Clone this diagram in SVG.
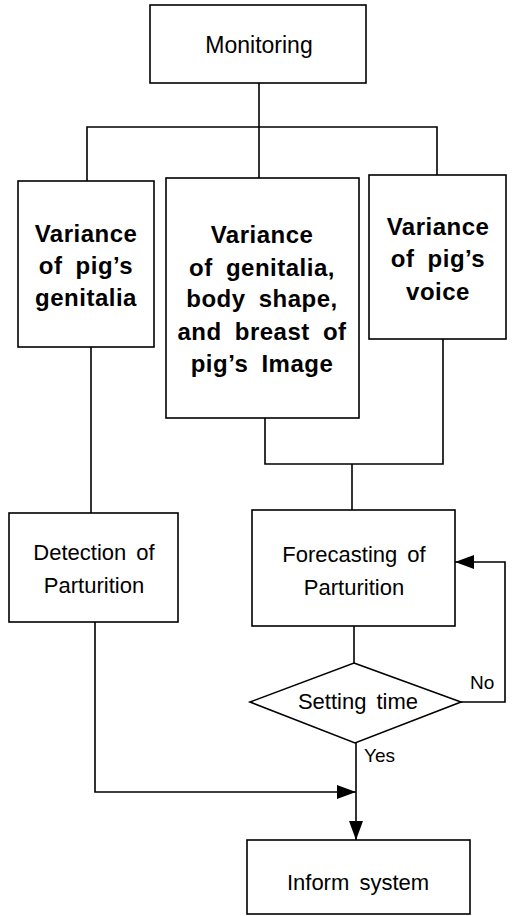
<svg xmlns="http://www.w3.org/2000/svg" width="517" height="916" viewBox="0 0 517 916">
<defs>
<style>
.box{fill:#fff;stroke:#000;stroke-width:1.6}
.ln{fill:none;stroke:#000;stroke-width:1.6}
.t{font-family:"Liberation Sans",Arial,sans-serif;font-size:22px;fill:#000;text-anchor:middle;word-spacing:4px}
.b{font-family:"Liberation Sans",Arial,sans-serif;font-size:24px;font-weight:bold;fill:#000;text-anchor:middle;word-spacing:6px;letter-spacing:0.5px}
.s{font-family:"Liberation Sans",Arial,sans-serif;font-size:19px;fill:#000}
</style>
<marker id="ah" markerWidth="19" markerHeight="14" refX="19" refY="7" orient="auto" markerUnits="userSpaceOnUse">
<path d="M0,0 L19,7 L0,14 Z" fill="#000"/>
</marker>
</defs>
<rect width="517" height="916" fill="#fff"/>
<g id="connectors">
<path class="ln" d="M259,83 V127"/>
<path class="ln" d="M87,181 V127 H437 V175"/>
<path class="ln" d="M259,127 V178"/>
<path class="ln" d="M91,347 V513"/>
<path class="ln" d="M265,418 V464 H443 V339"/>
<path class="ln" d="M352,464 V510"/>
<path class="ln" d="M354,626 V663"/>
<path class="ln" d="M461,702 H505 V562 H455" marker-end="url(#ah)"/>
<path class="ln" d="M95,622 V792 H356" marker-end="url(#ah)"/>
<path class="ln" d="M356,743 V840" marker-end="url(#ah)"/>
<text class="s" x="470" y="689">No</text>
<text class="s" x="364" y="762">Yes</text>
</g>
<g id="monitoring">
<rect class="box" x="150" y="5" width="216" height="78"/>
<text class="t" x="259" y="53" style="font-size:23px">Monitoring</text>
</g>
<g id="var-genitalia">
<rect class="box" x="18" y="181" width="136" height="166"/>
<text class="b" x="86" y="242">Variance</text>
<text class="b" x="86" y="274">of pig’s</text>
<text class="b" x="86" y="306">genitalia</text>
</g>
<g id="var-image">
<rect class="box" x="166" y="178" width="193" height="240"/>
<text class="b" x="262" y="243">Variance</text>
<text class="b" x="262" y="276">of genitalia,</text>
<text class="b" x="262" y="307">body shape,</text>
<text class="b" x="262" y="340">and breast of</text>
<text class="b" x="262" y="372">pig’s Image</text>
</g>
<g id="var-voice">
<rect class="box" x="369" y="175" width="137" height="164"/>
<text class="b" x="438" y="235">Variance</text>
<text class="b" x="438" y="267">of pig’s</text>
<text class="b" x="438" y="300">voice</text>
</g>
<g id="detection">
<rect class="box" x="9" y="513" width="169" height="109"/>
<text class="t" x="94" y="560">Detection of</text>
<text class="t" x="94" y="593">Parturition</text>
</g>
<g id="forecasting">
<rect class="box" x="252" y="510" width="203" height="116"/>
<text class="t" x="354" y="562">Forecasting of</text>
<text class="t" x="354" y="595">Parturition</text>
</g>
<g id="setting-time">
<path class="box" d="M354,663 L461,702 L355,743 L250,702 Z"/>
<text class="t" x="358" y="709">Setting time</text>
</g>
<g id="inform">
<rect class="box" x="247" y="840" width="223" height="74"/>
<text class="t" x="358" y="890">Inform system</text>
</g>
</svg>
